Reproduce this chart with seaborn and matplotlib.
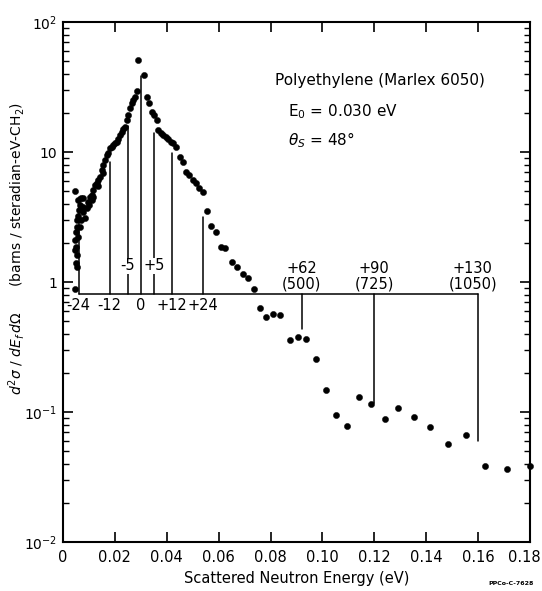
import numpy as np
import pandas as pd
import matplotlib
matplotlib.use("Agg")
import matplotlib.pyplot as plt
import matplotlib.transforms as mtransforms
import seaborn as sns
from matplotlib.ticker import FixedLocator, FixedFormatter, LogLocator, NullFormatter

# ---------------- data ----------------
energy_ev = [
    0.0046, 0.0046, 0.0046, 0.0046, 0.0050, 0.0050, 0.0050, 0.0053, 0.0053, 0.0053,
    0.0053, 0.0059, 0.0059, 0.0059, 0.0063, 0.0066, 0.0066, 0.0068, 0.0068, 0.0076,
    0.0078, 0.0078, 0.0085, 0.0091, 0.0098, 0.0101, 0.0104, 0.0110, 0.0110, 0.0117,
    0.0117, 0.0123, 0.0130, 0.0136, 0.0136, 0.0143, 0.0149, 0.0153, 0.0155, 0.0162,
    0.0168, 0.0175, 0.0181, 0.0188, 0.0194, 0.0200, 0.0207, 0.0213, 0.0220, 0.0226,
    0.0232, 0.0239, 0.0246, 0.0252, 0.0258, 0.0265, 0.0271, 0.0278, 0.0284, 0.0289,
    0.0312, 0.0325, 0.0333, 0.0342, 0.0351, 0.0361, 0.0367, 0.0377, 0.0387, 0.0396,
    0.0406, 0.0415, 0.0425, 0.0436, 0.0451, 0.0461, 0.0474, 0.0487, 0.0500, 0.0513,
    0.0525, 0.0541, 0.0555, 0.0571, 0.0590, 0.0610, 0.0625, 0.0650, 0.0670, 0.0692,
    0.0712, 0.0735, 0.0760, 0.0784, 0.0810, 0.0838, 0.0874, 0.0904, 0.0937, 0.0974,
    0.1013, 0.1054, 0.1095, 0.1139, 0.1187, 0.1240, 0.1293, 0.1352, 0.1414, 0.1483,
    0.1554, 0.1627, 0.1710, 0.1800,
]
cross_section = [
    5.0, 0.88, 1.76, 2.1, 1.39, 1.87, 2.44, 1.31, 1.61, 2.66,
    3.0, 2.23, 3.2, 4.27, 3.58, 2.66, 3.9, 3.0, 4.4, 3.47,
    3.8, 4.4, 3.1, 3.69, 4.15, 3.9, 4.5, 4.27, 4.66, 4.5,
    5.1, 5.57, 5.74, 5.5, 6.1, 6.45, 7.3, 6.9, 7.9, 8.7,
    9.5, 9.8, 10.7, 11.0, 11.3, 11.7, 12.0, 12.7, 13.5, 14.3,
    15.0, 15.7, 17.6, 19.2, 21.8, 23.8, 25.1, 26.7, 29.5, 51.0,
    39.0, 26.7, 23.7, 20.4, 19.2, 17.6, 14.7, 13.9, 13.5, 13.1,
    12.7, 12.0, 11.7, 11.0, 9.2, 8.4, 7.06, 6.65, 6.1, 5.74,
    5.27, 4.94, 3.54, 2.68, 2.42, 1.87, 1.82, 1.43, 1.31, 1.16,
    1.07, 0.89, 0.63, 0.54, 0.567, 0.557, 0.358, 0.38, 0.362, 0.254,
    0.148, 0.095, 0.078, 0.13, 0.115, 0.088, 0.107, 0.092, 0.076, 0.057,
    0.066, 0.0386, 0.0365, 0.0386,
]

# energy-transfer markers (meV, with cm^-1 in parentheses)
transfer_labels = ["-24", "-12", "-5", "0", "+5", "+12", "+24",
                   "+62\n(500)", "+90\n(725)", "+130\n(1050)"]
transfer_x = [0.006, 0.018, 0.025, 0.030, 0.035, 0.042, 0.054, 0.092, 0.120, 0.160]
transfer_tip = [4.5, 8.4, 15.9, 38.5, 13.9, 9.9, 3.18, 0.436, 0.117, 0.060]
transfer_base = 0.81

xticks = [0, 0.02, 0.04, 0.06, 0.08, 0.10, 0.12, 0.14, 0.16, 0.18]
xticklabels = ["0", "0.02", "0.04", "0.06", "0.08", "0.10", "0.12", "0.14", "0.16", "0.18"]
yticks = [1e-2, 1e-1, 1, 10, 100]
yticklabels = [r"10$^{-2}$", r"10$^{-1}$", "1", "10", r"10$^{2}$"]

# ---------------- style ----------------
sns.set_style("ticks")
plt.rcParams["font.family"] = ["DejaVu Sans"]
plt.rcParams["mathtext.fontset"] = "dejavusans"
for key in ("text.color", "axes.labelcolor", "xtick.color", "ytick.color",
            "axes.edgecolor"):
    plt.rcParams[key] = "black"

fig = plt.figure(figsize=(5.42, 5.91), dpi=100)
ax = fig.add_axes([63 / 542, 1 - 542 / 591, (530 - 63) / 542, (542 - 22) / 591])

df = pd.DataFrame({"E": energy_ev, "S": cross_section})
sns.scatterplot(data=df, x="E", y="S", ax=ax, color="black", s=20,
                edgecolor="black", linewidth=0.3, clip_on=False, zorder=3)

ax.set_yscale("log")
ax.set_xlim(0, 0.18)
ax.set_ylim(1e-2, 1e2)

# energy-transfer reference lines
lw = 1.1
ax.plot([transfer_x[0], transfer_x[-1]], [transfer_base, transfer_base],
        color="black", lw=lw, zorder=2)
for xv, tip in zip(transfer_x, transfer_tip):
    ax.plot([xv, xv], [transfer_base, tip], color="black", lw=lw, zorder=2)

for lab, xv in zip(transfer_labels, transfer_x):
    if lab in ("-5", "+5"):
        ax.text(xv, 1.33, lab, ha="center", va="center", fontsize=10.5,
                bbox=dict(facecolor="white", edgecolor="none", pad=0.6), zorder=4)
    elif "\n" in lab:
        dx = -0.002 if lab.startswith("+130") else 0.0
        ax.text(xv + dx, transfer_base * 1.05, lab, ha="center", va="bottom",
                fontsize=10.5, linespacing=1.0, zorder=4)
    else:
        ax.text(xv, transfer_base * 0.93, lab, ha="center", va="top",
                fontsize=10.5, zorder=4)

# annotations
ax.text(0.679, 0.888, "Polyethylene (Marlex 6050)", transform=ax.transAxes,
        ha="center", va="center", fontsize=11)
ax.text(0.482, 0.827, r"E$_0$ = 0.030 eV", transform=ax.transAxes,
        ha="left", va="center", fontsize=11)
ax.text(0.482, 0.773, r"$\theta_S$ = 48°", transform=ax.transAxes,
        ha="left", va="center", fontsize=11)

# axes / ticks
ax.xaxis.set_major_locator(FixedLocator(xticks))
ax.xaxis.set_major_formatter(FixedFormatter(xticklabels))
ax.yaxis.set_major_locator(FixedLocator(yticks))
ax.yaxis.set_major_formatter(FixedFormatter(yticklabels))
ax.yaxis.set_minor_locator(LogLocator(base=10, subs=np.arange(2, 10)))
ax.yaxis.set_minor_formatter(NullFormatter())
ax.tick_params(axis="both", which="major", direction="in", length=7, width=1.2,
               top=True, right=True, colors="black")
ax.tick_params(axis="x", which="major", pad=6, labelsize=10.5)
ax.tick_params(axis="y", which="major", pad=4, labelsize=10)
ax.tick_params(axis="y", which="minor", direction="in", length=4, width=1.0,
               left=True, right=True, colors="black")
for sp in ax.spines.values():
    sp.set_linewidth(1.5)
    sp.set_color("black")
    sp.set_visible(True)

# keep the last x tick label inside the figure
fig.canvas.draw()
last = ax.get_xticklabels()[-1]
last.set_transform(last.get_transform() +
                   mtransforms.ScaledTranslation(-6 / 100, 0, fig.dpi_scale_trans))

ax.set_xlabel("Scattered Neutron Energy (eV)", fontsize=10.5, labelpad=4)
ax.set_ylabel(r"$d^2\sigma\ /\ dE_f\,d\Omega$      (barns / steradian-eV-CH$_2$)",
              fontsize=10)
ax.yaxis.set_label_coords(-0.078, 0.565)

fig.text(0.985, 0.012, "PPCo-C-7628", ha="right", va="center", fontsize=4.5,
         fontweight="bold")

fig.savefig("out.png", dpi=100)
